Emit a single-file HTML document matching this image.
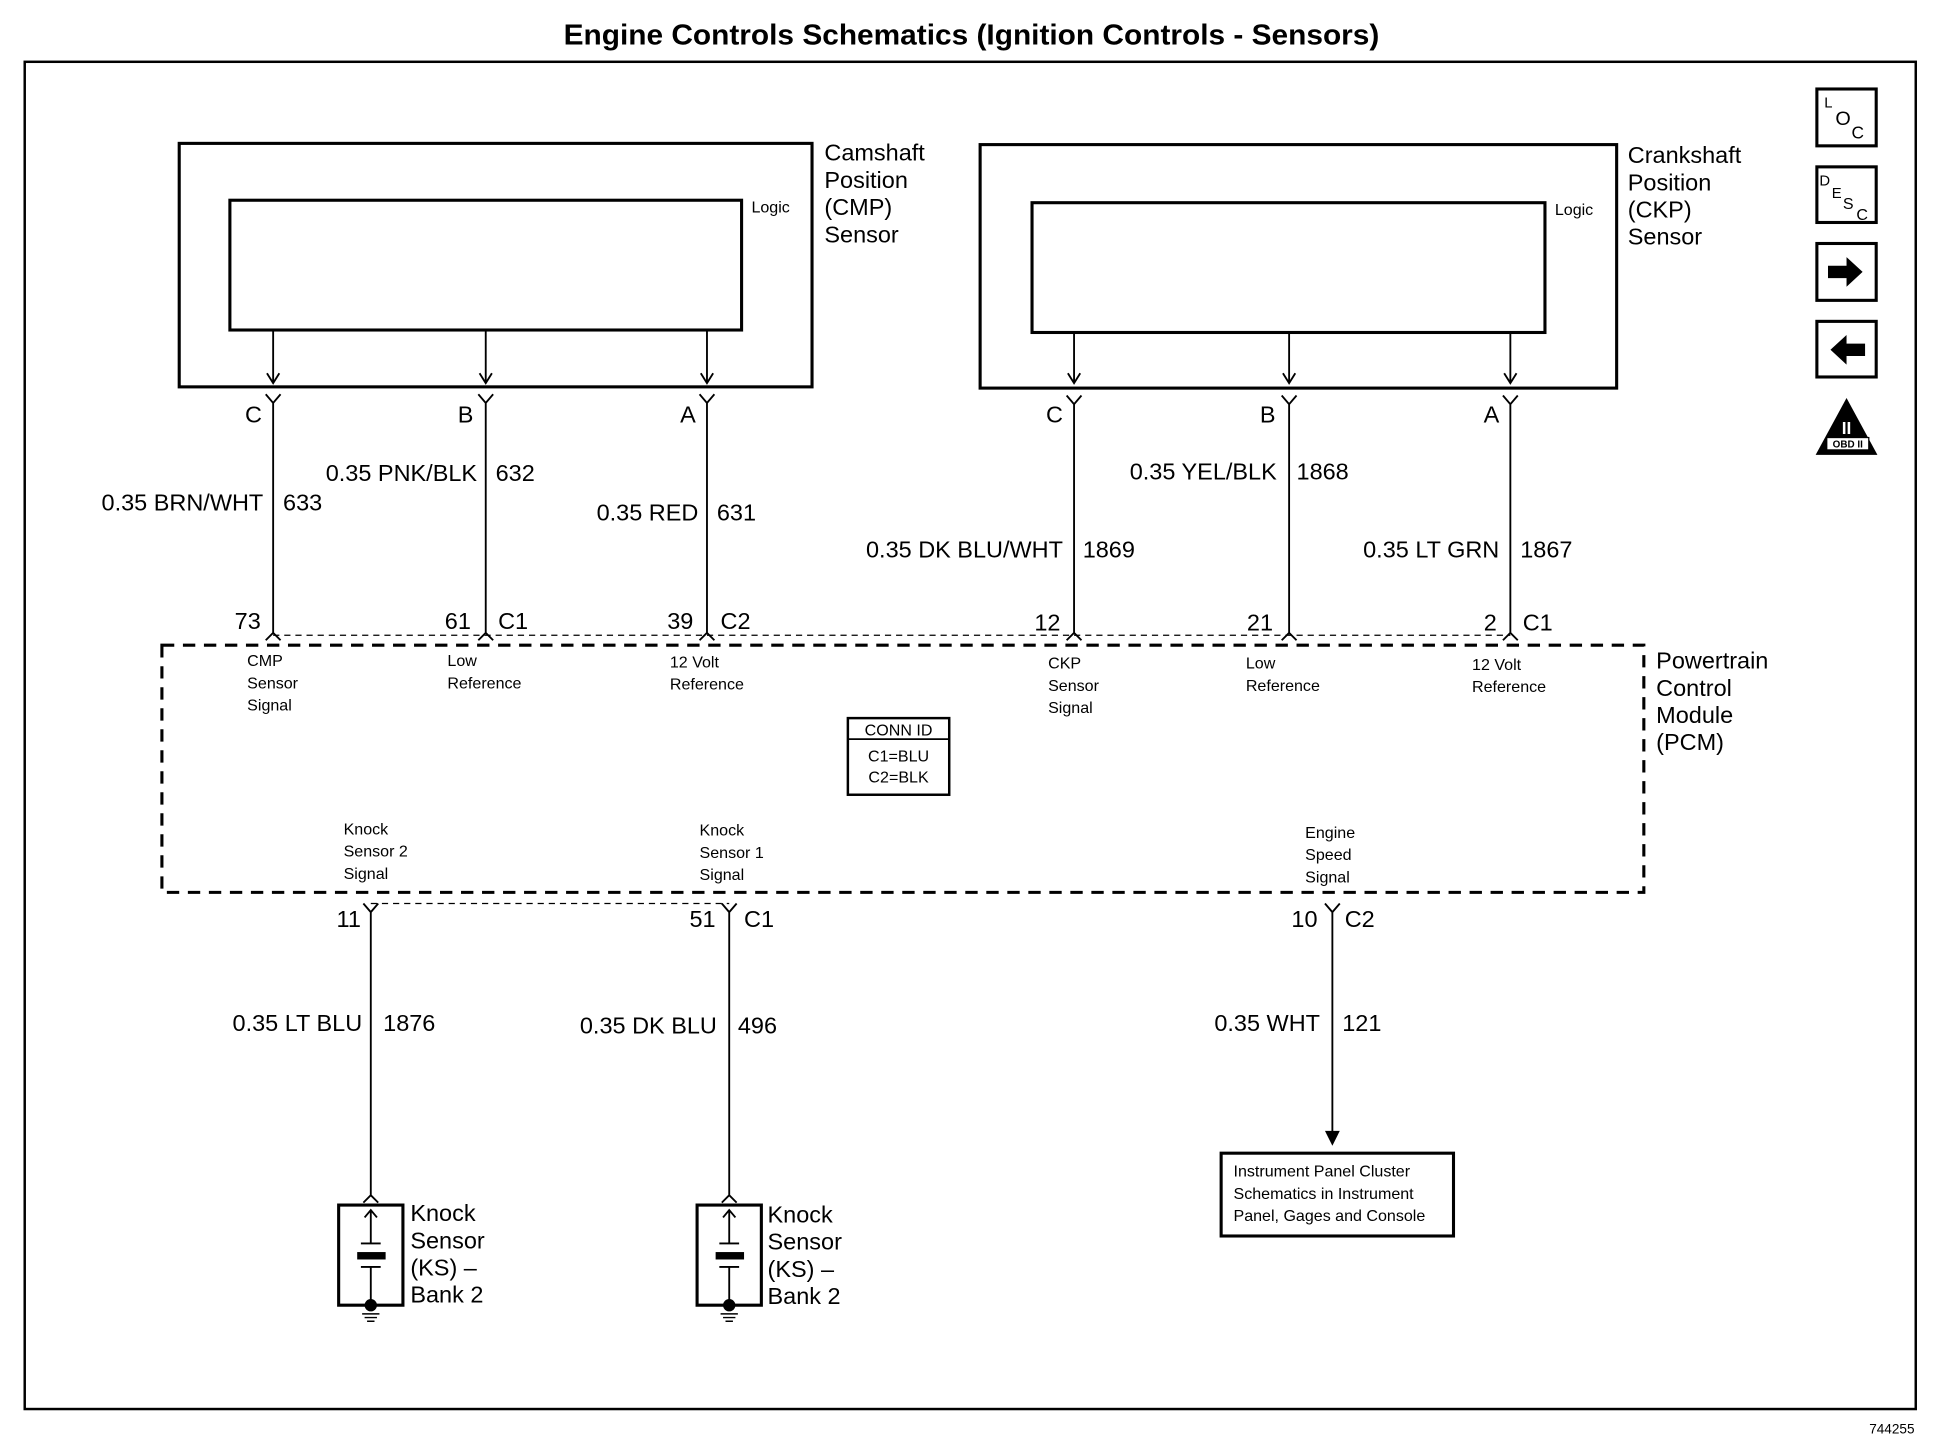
<!DOCTYPE html>
<html><head><meta charset="utf-8"><style>
html,body{margin:0;padding:0;background:#fff;width:1938px;height:1456px;overflow:hidden}
svg{display:block}
text{font-family:"Liberation Sans",Arial,sans-serif;fill:#000}
.w{font-size:19px}
.s{font-size:13px}
.e{text-anchor:end}
</style></head><body>
<svg width="1938" height="1456" viewBox="0 0 1568 1178" preserveAspectRatio="none" xmlns="http://www.w3.org/2000/svg">
<g stroke="#000" fill="none">
<rect x="20" y="50" width="1530" height="1090" stroke-width="2"/>
<rect x="145" y="116" width="512" height="197" stroke-width="2.5"/>
<rect x="186" y="162" width="414" height="105" stroke-width="2.5"/>
<rect x="793" y="117" width="515" height="197" stroke-width="2.5"/>
<rect x="835" y="164" width="415" height="105" stroke-width="2.5"/>
<rect x="131" y="522" width="1199" height="200" stroke-width="2.5" stroke-dasharray="10,7"/>
<line x1="221" y1="514" x2="1222" y2="514" stroke-width="1" stroke-dasharray="5,4"/>
<line x1="300" y1="731" x2="590" y2="731" stroke-width="1" stroke-dasharray="5,4"/>
<rect x="686" y="581" width="82" height="62" stroke-width="2"/>
<line x1="686" y1="598" x2="768" y2="598" stroke-width="1.5"/>
<rect x="988" y="933" width="188" height="67" stroke-width="2.5"/>
<rect x="1470" y="72" width="48" height="46" stroke-width="2.5"/>
<rect x="1470" y="135" width="48" height="45" stroke-width="2.5"/>
<rect x="1470" y="197" width="48" height="46" stroke-width="2.5"/>
<rect x="1470" y="260" width="48" height="45" stroke-width="2.5"/>
</g>
<g stroke="#000" fill="none" stroke-width="1.5">
<path d="M221 267V310M216 302L221 310L226 302M215 319L221 326L227 319M221 326V512M215 518L221 512L227 518"/>
<path d="M393 267V310M388 302L393 310L398 302M387 319L393 326L399 319M393 326V512M387 518L393 512L399 518"/>
<path d="M572 267V310M567 302L572 310L577 302M566 319L572 326L578 319M572 326V512M566 518L572 512L578 518"/>
<path d="M869 269V310M864 302L869 310L874 302M863 320L869 327L875 320M869 327V512M863 518L869 512L875 518"/>
<path d="M1043 269V310M1038 302L1043 310L1048 302M1037 320L1043 327L1049 320M1043 327V512M1037 518L1043 512L1049 518"/>
<path d="M1222 269V310M1217 302L1222 310L1227 302M1216 320L1222 327L1228 320M1222 327V512M1216 518L1222 512L1228 518"/>
<path d="M294 731L300 738L306 731M300 738V967M294 973L300 967L306 973"/>
<path d="M584 731L590 738L596 731M590 738V967M584 973L590 967L596 973"/>
<path d="M1072 731L1078 738L1084 731M1078 738V918"/>
</g>
<polygon points="1072,915 1084,915 1078,927" fill="#000"/>
<g stroke="#000" fill="none">
<path d="M274 975H326V1056H274Z" stroke-width="2.5"/>
<path d="M300 980V1006M295 985L300 979L305 985M292 1006H308M292 1025H308M300 1025V1056" stroke-width="1.5"/>
<path d="M564 975H616V1056H564Z" stroke-width="2.5"/>
<path d="M590 980V1006M585 985L590 979L595 985M582 1006H598M582 1025H598M590 1025V1056" stroke-width="1.5"/>
<path d="M293 1063H307M295 1066H305M297 1069H303M583 1063H597M585 1066H595M587 1069H593" stroke-width="1.2"/>
</g>
<g fill="#000">
<rect x="289" y="1013" width="23" height="6"/><rect x="579" y="1013" width="23" height="6"/>
<circle cx="300" cy="1056" r="5"/><circle cx="590" cy="1056" r="5"/>
<polygon points="1479,215 1494,215 1494,208 1507,220 1494,232 1494,225 1479,225"/>
<polygon points="1509,278 1494,278 1494,271 1481,283 1494,295 1494,288 1509,288"/>
<polygon points="1494,322 1519,368 1469,368"/>
</g>
<rect x="1478" y="354" width="34" height="10" fill="#fff" stroke="#000" stroke-width="1"/>
<text x="1495" y="362" style="font-size:8px;font-weight:bold" text-anchor="middle">OBD II</text>
<text x="1494" y="351" style="font-size:14px;fill:#fff;font-weight:bold" text-anchor="middle">II</text>
<text x="1476" y="87" style="font-size:12px">L</text><text x="1485" y="101" style="font-size:16px">O</text><text x="1498" y="112" style="font-size:14px">C</text>
<text x="1472" y="150" style="font-size:12px">D</text><text x="1482" y="160" style="font-size:12px">E</text><text x="1491" y="169" style="font-size:13px">S</text><text x="1502" y="178" style="font-size:13px">C</text>

<text x="786" y="36" text-anchor="middle" textLength="660" lengthAdjust="spacingAndGlyphs" style="font-size:23px;font-weight:bold">Engine Controls Schematics (Ignition Controls - Sensors)</text>
<text x="1549" y="1160" class="e" style="font-size:11px">744255</text>

<text x="608" y="172" class="s">Logic</text>
<text x="1258" y="174" class="s">Logic</text>
<g class="w">
<text x="667" y="130">Camshaft</text><text x="667" y="152">Position</text><text x="667" y="174">(CMP)</text><text x="667" y="196">Sensor</text>
<text x="1317" y="132">Crankshaft</text><text x="1317" y="154">Position</text><text x="1317" y="176">(CKP)</text><text x="1317" y="198">Sensor</text>
<text x="1340" y="541">Powertrain</text><text x="1340" y="563">Control</text><text x="1340" y="585">Module</text><text x="1340" y="607">(PCM)</text>
<text x="212" y="342" class="e">C</text><text x="383" y="342" class="e">B</text><text x="563" y="342" class="e">A</text>
<text x="860" y="342" class="e">C</text><text x="1032" y="342" class="e">B</text><text x="1213" y="342" class="e">A</text>
<text x="213" y="413" class="e">0.35 BRN/WHT</text><text x="229" y="413">633</text>
<text x="386" y="389" class="e">0.35 PNK/BLK</text><text x="401" y="389">632</text>
<text x="565" y="421" class="e">0.35 RED</text><text x="580" y="421">631</text>
<text x="860" y="451" class="e">0.35 DK BLU/WHT</text><text x="876" y="451">1869</text>
<text x="1033" y="388" class="e">0.35 YEL/BLK</text><text x="1049" y="388">1868</text>
<text x="1213" y="451" class="e">0.35 LT GRN</text><text x="1230" y="451">1867</text>
<text x="211" y="509" class="e">73</text>
<text x="381" y="509" class="e">61</text><text x="403" y="509">C1</text>
<text x="561" y="509" class="e">39</text><text x="583" y="509">C2</text>
<text x="858" y="510" class="e">12</text>
<text x="1030" y="510" class="e">21</text>
<text x="1211" y="510" class="e">2</text><text x="1232" y="510">C1</text>
<text x="292" y="750" class="e">11</text>
<text x="579" y="750" class="e">51</text><text x="602" y="750">C1</text>
<text x="1066" y="750" class="e">10</text><text x="1088" y="750">C2</text>
<text x="293" y="834" class="e">0.35 LT BLU</text><text x="310" y="834">1876</text>
<text x="580" y="836" class="e">0.35 DK BLU</text><text x="597" y="836">496</text>
<text x="1068" y="834" class="e">0.35 WHT</text><text x="1086" y="834">121</text>
<text x="332" y="988">Knock</text><text x="332" y="1010">Sensor</text><text x="332" y="1032">(KS) –</text><text x="332" y="1054">Bank 2</text>
<text x="621" y="989">Knock</text><text x="621" y="1011">Sensor</text><text x="621" y="1033">(KS) –</text><text x="621" y="1055">Bank 2</text>
</g>
<g class="s">
<text x="200" y="539">CMP</text><text x="200" y="557">Sensor</text><text x="200" y="575">Signal</text>
<text x="362" y="539">Low</text><text x="362" y="557">Reference</text>
<text x="542" y="540">12 Volt</text><text x="542" y="558">Reference</text>
<text x="848" y="541">CKP</text><text x="848" y="559">Sensor</text><text x="848" y="577">Signal</text>
<text x="1008" y="541">Low</text><text x="1008" y="559">Reference</text>
<text x="1191" y="542">12 Volt</text><text x="1191" y="560">Reference</text>
<text x="727" y="595" text-anchor="middle">CONN ID</text>
<text x="727" y="616" text-anchor="middle">C1=BLU</text>
<text x="727" y="633" text-anchor="middle">C2=BLK</text>
<text x="278" y="675">Knock</text><text x="278" y="693">Sensor 2</text><text x="278" y="711">Signal</text>
<text x="566" y="676">Knock</text><text x="566" y="694">Sensor 1</text><text x="566" y="712">Signal</text>
<text x="1056" y="678">Engine</text><text x="1056" y="696">Speed</text><text x="1056" y="714">Signal</text>
<text x="998" y="952">Instrument Panel Cluster</text>
<text x="998" y="970">Schematics in Instrument</text>
<text x="998" y="988">Panel, Gages and Console</text>
</g>
</svg>
</body></html>
